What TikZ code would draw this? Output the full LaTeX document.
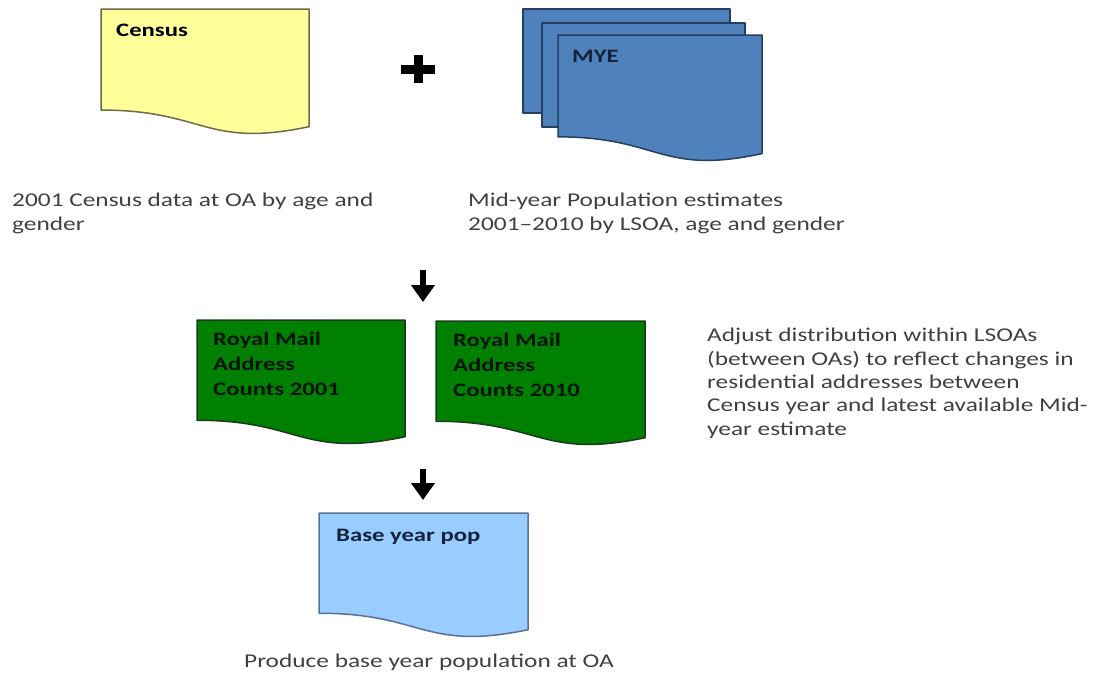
\documentclass[tikz,border=0pt]{standalone}
\usepackage{fontspec}
\setmainfont{Carlito}[FakeStretch=1.3]
\usetikzlibrary{arrows.meta,calc}
\definecolor{popYellow}{HTML}{FFFF99}
\definecolor{popYellowLine}{HTML}{6B6B4A}
\definecolor{popBlue}{HTML}{4F81BD}
\definecolor{popBlueLine}{HTML}{243F60}
\definecolor{popGreen}{HTML}{008000}
\definecolor{popGreenLine}{HTML}{1E3A1E}
\definecolor{popSky}{HTML}{99CCFF}
\definecolor{popSkyLine}{HTML}{5A7190}
\definecolor{popText}{HTML}{404040}
\definecolor{popNavy}{HTML}{14233A}
\tikzset{
  pop sheet/.style={line width=1.5pt, line join=round},
  pop label/.style={anchor=base west, inner sep=0pt, align=left, font=\bfseries\fontsize{19}{25}\selectfont},
  pop text/.style={anchor=base west, inner sep=0pt, align=left, text=popText, font=\fontsize{19.5}{24}\selectfont},
  pop arrow/.style={draw=black, line width=6.5pt, -{Triangle[width=23pt,length=17pt]}},
  pop plus/.style={draw=black, line width=9pt},
}
% document sheet with a wavy bottom: x, y (top left), width, height
\newcommand\docsheet[5]{%
  \draw[pop sheet, #1] (#2,#3) -- ++(#4,0) -- ++(0,0.934*#5)
    .. controls ++(-0.5*#4,0.174*#5) and ($(#2,#3)+(0.5*#4,0.802*#5)$) .. (#2,#3+0.802*#5) -- cycle;}
\begin{document}
\begin{tikzpicture}[x=1pt, y=-1pt]
  \useasboundingbox (0,0) rectangle (1093,675);

  % Census sheet
  \docsheet{draw=popYellowLine, fill=popYellow}{101}{9}{208}{126}
  \node[pop label, text=black] (census) at (116,36) {Census};

  % plus sign
  \draw[pop plus] (401,69) -- (435,69);
  \draw[pop plus] (418,55) -- (418,83);

  % MYE stack of three sheets
  \draw[pop sheet, draw=popBlueLine, fill=popBlue] (523,9) rectangle (730,113);
  \draw[pop sheet, draw=popBlueLine, fill=popBlue] (542,23) rectangle (745,127);
  \docsheet{draw=popBlueLine, fill=popBlue}{558}{35}{204}{127}
  \node[pop label, text=popNavy] (mye) at (572,62) {MYE};

  % captions: base anchor sits on the last line
  \node[pop text] (censustext) at (12,230) {2001 Census data at OA by age and\\gender};
  \node[pop text] (myetext) at (468,230) {Mid-year Population estimates\\2001--2010 by LSOA, age and gender};

  % first step down
  \coordinate (downA) at (423,270);
  \coordinate (downB) at (423,302);
  \draw[pop arrow] (downA) -- (downB);

  % Royal Mail address counts
  \docsheet{draw=popGreenLine, fill=popGreen}{197}{320}{208}{125}
  \node[pop label, text=black!85!popGreen] (rm2001) at (213,395) {Royal Mail\\Address\\Counts 2001};
  \docsheet{draw=popGreenLine, fill=popGreen}{436}{321}{209}{125}
  \node[pop label, text=black!85!popGreen] (rm2010) at (453,396) {Royal Mail\\Address\\Counts 2010};

  \node[pop text, font=\fontsize{19.5}{23.3}\selectfont] (adjust) at (707,435)
    {Adjust distribution within LSOAs\\(between OAs) to reflect changes in\\residential addresses between\\Census year and latest available Mid-\\year estimate};

  % second step down
  \coordinate (downC) at (423,469);
  \coordinate (downD) at (423,500);
  \draw[pop arrow] (downC) -- (downD);

  % base year population
  \docsheet{draw=popSkyLine, fill=popSky}{319}{513}{209}{125}
  \node[pop label, text=popNavy] (basepop) at (336,541) {Base year pop};
  \node[pop text] (basetext) at (244,667) {Produce base year population at OA};
\end{tikzpicture}
\end{document}
